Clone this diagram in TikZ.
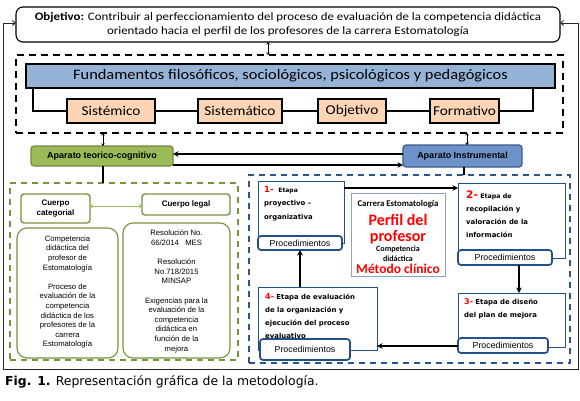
\documentclass[tikz,border=0pt]{standalone}
\usepackage{fontspec}
\setmainfont{Carlito}[FakeStretch=1.13]
\newfontfamily\carl{Carlito}
\newfontfamily\arialf{Liberation Sans}
\newfontfamily\verd{DejaVu Sans}
\usetikzlibrary{arrows.meta}
\definecolor{fundblue}{HTML}{95B3D7}
\definecolor{peach}{HTML}{FBD5B5}
\definecolor{aptgreen}{HTML}{9BBB59}
\definecolor{aptgreenb}{HTML}{71893F}
\definecolor{instblue}{HTML}{6E93CB}
\definecolor{instblueb}{HTML}{385D8A}
\definecolor{dgreen}{HTML}{77933C}
\definecolor{dblue}{HTML}{2A5590}
\definecolor{stblue}{HTML}{24508A}
\definecolor{cbox}{HTML}{8EA3C2}
\definecolor{redt}{HTML}{FF0000}
\tikzset{
  box/.style={anchor=north west, inner sep=0pt, outer sep=0pt},
  objbox/.style={box, draw=black, line width=1.1pt, rounded corners=7pt, fill=white},
  fdashbox/.style={box, draw=black, line width=1.7pt, dash pattern=on 7pt off 5pt},
  fundbox/.style={box, draw=black, line width=1.3pt, fill=fundblue},
  prinbox/.style={box, draw=black, line width=1.5pt, fill=peach, font=\fontsize{13.5}{15}\selectfont},
  aptbox/.style={box, rounded corners=3pt, line width=1.2pt, font=\arialf\bfseries\fontsize{9}{10}\selectfont},
  gdashbox/.style={box, draw=dgreen, line width=1.4pt, dash pattern=on 6pt off 5pt},
  bdashbox/.style={box, draw=dblue, line width=1.4pt, dash pattern=on 6pt off 5pt},
  cuerpobox/.style={box, draw=dgreen, line width=1.4pt, rounded corners=3pt, fill=white, align=center, font=\arialf\bfseries\fontsize{8}{9.5}\selectfont},
  contbox/.style={box, draw=dgreen, line width=1.1pt, rounded corners=10pt, fill=white},
  conttext/.style={inner sep=0pt, align=center, font=\arialf\fontsize{7.7}{9.6}\selectfont},
  stagebox/.style={box, draw=stblue, line width=0.9pt, fill=white},
  stagetext/.style={anchor=north west, inner sep=0pt, align=left, font=\verd\bfseries\fontsize{6.9}{13.3}\selectfont},
  procbox/.style={box, draw=stblue, line width=1.7pt, rounded corners=3pt, fill=white, font=\arialf\fontsize{8.8}{9}\selectfont},
  link/.style={draw=black, line width=1.6pt},
  arr/.style={draw=black, line width=1.6pt, -{Stealth[length=5.5pt,width=5.5pt]}},
  dbl/.style={draw=black, line width=0.8pt, {Stealth[length=2.5pt,width=3.5pt]}-{Stealth[length=2.5pt,width=3.5pt]}},
  frame/.style={draw=black!85, line width=0.9pt},
  centext/.style={anchor=base, inner sep=0pt, font=\carl\bfseries}
}
\begin{document}
\begin{tikzpicture}[x=1pt,y=-1pt]
\useasboundingbox[fill=white] (0,0) rectangle (580,400);

% objective
\node[objbox, minimum width=544pt, minimum height=35pt] (obj) at (16,7) {};
\node[inner sep=0pt, align=center, font=\fontsize{11.4}{14.5}\selectfont] (objt) at (obj.center)
  {\textbf{Objetivo:} Contribuir al perfeccionamiento del proceso de evaluación de la competencia didáctica\\orientado hacia el perfil de los profesores de la carrera Estomatología};

% outer frame connector
\coordinate (fl) at (3,23);
\coordinate (fr) at (578,23);
\coordinate (bl) at (3,369);
\coordinate (br) at (578,369);
\draw[frame, -{Straight Barb[length=3pt,width=5pt]}] (bl) -- (fl) -- (obj.west |- fl);
\draw[frame, -{Straight Barb[length=3pt,width=5pt]}] (bl) -- (br) -- (fr) -- (obj.east |- fr);

% fundamentos block
\node[fdashbox, minimum width=547pt, minimum height=78pt] (fdash) at (16,55) {};
\coordinate (a0) at (268,0);
\draw[dbl] (obj.south -| a0) -- (fdash.north -| a0);
\node[fundbox, minimum width=529pt, minimum height=24pt, font=\fontsize{14.5}{16}\selectfont] (fund) at (26,64)
  {Fundamentos filosóficos, sociológicos, psicológicos y pedagógicos};
\node[prinbox, minimum width=88pt, minimum height=24pt] (p1) at (67,99) {Sistémico};
\node[prinbox, minimum width=84pt, minimum height=24pt] (p2) at (198,99) {Sistemático};
\node[prinbox, minimum width=68pt, minimum height=24pt] (p3) at (318,99) {Objetivo};
\node[prinbox, minimum width=69pt, minimum height=24pt] (p4) at (430,99) {Formativo};
\coordinate (l1) at (33,0);
\coordinate (r1) at (533,0);
\draw[link] (fund.south -| l1) |- (p1.west);
\draw[link] (fund.south -| r1) |- (p4.east);
\draw[link] (p1.east) -- (p2.west);
\draw[link] (p2.east) -- (p3.west);
\draw[link] (p3.east) -- (p4.west);

% aparatos
\node[aptbox, fill=aptgreen, draw=aptgreenb, minimum width=142pt, minimum height=20pt] (apt) at (31,146) {Aparato teorico-cognitivo};
\node[aptbox, fill=instblue, draw=instblueb, minimum width=119pt, minimum height=22pt] (ins) at (403,145) {Aparato Instrumental};
\coordinate (a1) at (103,0);
\coordinate (a2) at (467,0);
\draw[dbl] (fdash.south -| a1) -- (apt.north -| a1);
\draw[dbl] (fdash.south -| a2) -- (ins.north -| a2);
\coordinate (h1) at (0,154);
\coordinate (h2) at (0,165);
\draw[arr] (ins.west |- h1) -- (apt.east |- h1);
\draw[arr] (apt.east |- h2) -- (ins.west |- h2);

% green part
\node[gdashbox, minimum width=228pt, minimum height=177pt] (gdash) at (10,183) {};
\coordinate (a3) at (464,0);
\draw[link] (apt.south -| a1) -- (gdash.north -| a1);
\node[cuerpobox, minimum width=69pt, minimum height=29pt] (cc) at (21,194) {Cuerpo\\categorial};
\node[cuerpobox, minimum width=88pt, minimum height=21pt] (cl) at (142,194) {Cuerpo legal};
\coordinate (h3) at (0,206);
\draw[draw=aptgreen, line width=0.8pt, {Stealth[length=3pt,width=4pt]}-{Stealth[length=3pt,width=4pt]}] (cc.east |- h3) -- (cl.west |- h3);
\node[contbox, minimum width=101pt, minimum height=130pt] (c1) at (17,228) {};
\node[contbox, minimum width=107pt, minimum height=135pt] (c2) at (123,223) {};
\node[conttext] (c1t) at ([yshift=1pt]c1.center) {Competencia\\didáctica del\\profesor de\\Estomatología\\[9.6pt]Proceso de\\evaluación de la\\competencia\\didáctica de los\\profesores de la\\carrera\\Estomatología};
\node[conttext] (c2t) at ([yshift=-1pt]c2.center) {Resolución No.\\66/2014 \ \ MES\\[9.6pt]Resolución\\No.718/2015\\MINSAP\\[9.6pt]Exigencias para la\\evaluación de la\\competencia\\didáctica en\\función de la\\mejora};

% blue part
\node[bdashbox, minimum width=321pt, minimum height=188pt] (bdash) at (249,175) {};
\draw[link] (ins.south -| a3) -- (bdash.north -| a3);

\node[stagebox, minimum width=86pt, minimum height=62pt] (s1) at (258,181) {};
\node[stagetext] (s1t) at (264,186) {\textcolor{redt}{\fontsize{8.5}{9}\selectfont 1-}\ \ {\fontsize{6}{13.3}\selectfont Etapa}\\proyectivo –\\organizativa};
\node[procbox, minimum width=84pt, minimum height=14pt] (pr1) at (258,236) {Procedimientos};

\node[stagebox, minimum width=107pt, minimum height=75pt] (s2) at (458,183) {};
\node[stagetext] (s2t) at (466,190) {\textcolor{redt}{\fontsize{10.5}{10}\selectfont 2-}\ {\fontsize{6.3}{13.3}\selectfont Etapa de}\\recopilación y\\valoración de la\\información};
\node[procbox, minimum width=94pt, minimum height=15pt] (pr2) at (458,250) {Procedimientos};

\node[box, draw=cbox, line width=0.9pt, fill=white, minimum width=94pt, minimum height=83pt] (cen) at (351,193) {};
\node[centext, font=\carl\bfseries\fontsize{8.8}{9}\selectfont] (cen1) at (398,206) {Carrera Estomatología};
\node[centext, text=redt, font=\carl\bfseries\fontsize{16}{17}\selectfont] (cen2) at (398,225) {Perfil del};
\node[centext, text=redt, font=\carl\bfseries\fontsize{16}{17}\selectfont] (cen3) at (398,241) {profesor};
\node[centext, font=\carl\bfseries\fontsize{8}{9}\selectfont] (cen4) at (398,251.5) {Competencia};
\node[centext, font=\carl\bfseries\fontsize{8}{9}\selectfont] (cen5) at (398,261) {didáctica};
\node[centext, text=redt, font=\carl\bfseries\fontsize{13.5}{14}\selectfont] (cen6) at (398,273.5) {Método clínico};

\node[stagebox, minimum width=107pt, minimum height=54pt] (s3) at (458,293) {};
\node[stagetext] (s3t) at (464,298) {\textcolor{redt}{\fontsize{8}{9}\selectfont 3-}\ Etapa de diseño\\del plan de mejora};
\node[procbox, minimum width=90pt, minimum height=15pt] (pr3) at (458,338) {Procedimientos};

\node[stagebox, minimum width=119pt, minimum height=63pt] (s4) at (258,287) {};
\node[stagetext] (s4t) at (265,293) {\textcolor{redt}{\fontsize{8}{9}\selectfont 4-}\ Etapa de evaluación\\de la organización y\\ejecución del proceso\\evaluativo};
\node[procbox, minimum width=90pt, minimum height=21pt] (pr4) at (260,339) {Procedimientos};

\coordinate (h4) at (0,188);
\coordinate (h5) at (0,346);
\coordinate (v1) at (519,0);
\coordinate (v2) at (300,0);
\draw[arr] (s1.east |- h4) -- (s2.west |- h4);
\draw[arr] (pr2.south -| v1) -- (s3.north -| v1);
\draw[arr] (pr3.west |- h5) -- (s4.east |- h5);
\draw[arr] (s4.north -| v2) -- (pr1.south -| v2);

% caption
\node[anchor=base west, inner sep=0pt, font=\verd\fontsize{12.4}{13}\selectfont] (cap) at (5,385) {\textbf{Fig. 1.} Representación gráfica de la metodología.};
\end{tikzpicture}
\end{document}
